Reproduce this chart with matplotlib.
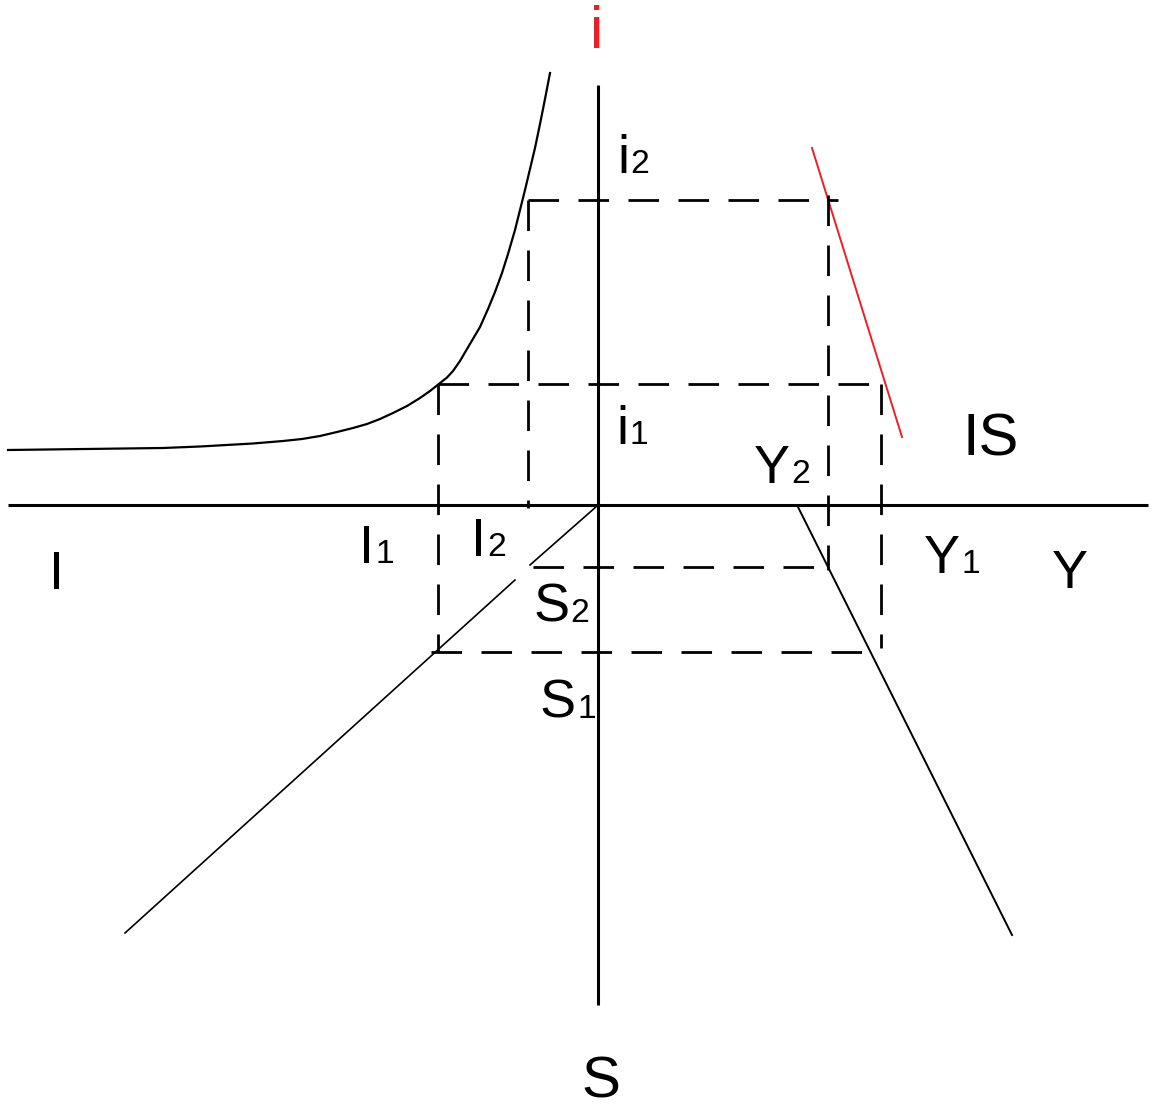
import matplotlib.pyplot as plt

plt.rcParams['lines.scale_dashes'] = False
plt.rcParams['font.family'] = ['Liberation Sans', 'DejaVu Sans']

# diagram coordinates (image pixels, y downwards)
axis_h_x = [8, 1148]
axis_h_y = [505, 505]
axis_v_x = [598, 598]
axis_v_y = [85, 1005]

# investment curve (top-left quadrant)
inv_x = [8, 163, 200, 253, 283, 302, 320, 337, 353, 367, 380, 393, 407, 420,
         430, 437, 447, 453, 460, 467, 480, 488, 495, 502, 508, 515, 520, 525,
         530, 535, 540, 545, 550]
inv_y = [450, 448, 446.5, 443.5, 441, 439, 436, 432, 428, 424, 419, 413, 406,
         398, 391, 385.5, 377.5, 371, 361, 349, 327, 309, 292, 273, 254, 230,
         210, 190, 169, 148, 124, 99, 73]

# savings lines (bottom-left quadrant), drawn in two pieces
sav1_x = [597, 530]
sav1_y = [506, 565]
sav2_x = [515, 125]
sav2_y = [580, 933]

# bottom-right line
sy_x = [798, 1012]
sy_y = [507, 935]

# IS curve (red)
is_x = [812, 902]
is_y = [148, 437]

# dashed guides: (x0, y0, x1, y1)
guides = [
    (528, 200, 838, 200),
    (528, 200, 528, 508),
    (828, 195, 828, 570),
    (438, 384, 881, 384),
    (438, 384, 438, 652),
    (881, 384, 881, 648),
    (533, 567, 833, 567),
    (431, 652, 868, 652),
]

# labels: (main text, sub text, x, baseline y, size, colour)
labels = [
    ('i', '', 590, 48, 43, '#e8202a'),
    ('i', '2', 617, 173, 39, 'black'),
    ('i', '1', 616, 444, 39, 'black'),
    ('Y', '2', 754, 483, 39, 'black'),
    ('IS', '', 962, 455, 43, 'black'),
    ('Y', '1', 924, 573, 39, 'black'),
    ('Y', '', 1052, 588, 39, 'black'),
    ('I', '', 49, 589, 39, 'black'),
    ('I', '1', 359, 563, 39, 'black'),
    ('I', '2', 471, 556, 39, 'black'),
    ('S', '2', 533, 622, 39, 'black'),
    ('S', '1', 540, 718, 39, 'black'),
    ('S', '', 581, 1097, 42, 'black'),
]

fig = plt.figure(figsize=(11.52, 11.11), dpi=100)
ax = fig.add_axes([0, 0, 1, 1])
ax.set_xlim(0, 1152)
ax.set_ylim(1111, 0)
ax.axis('off')

ax.plot(axis_h_x, axis_h_y, color='black', lw=2.2, solid_capstyle='butt')
ax.plot(axis_v_x, axis_v_y, color='black', lw=2.2, solid_capstyle='butt')

ax.plot(inv_x, inv_y, color='black', lw=1.6)
ax.plot(sav1_x, sav1_y, color='black', lw=1.2)
ax.plot(sav2_x, sav2_y, color='black', lw=1.2)
ax.plot(sy_x, sy_y, color='black', lw=1.4)
ax.plot(is_x, is_y, color='#e8202a', lw=1.4)

for x0, y0, x1, y1 in guides:
    ax.plot([x0, x1], [y0, y1], color='black', lw=2.0,
            dashes=(22, 14), dash_capstyle='butt')

fig.canvas.draw()
for main, sub, x, y, size, col in labels:
    t = ax.text(x, y, main, fontsize=size, color=col, ha='left', va='baseline')
    if sub:
        # put the smaller digit right after the letter, same baseline
        bb = t.get_window_extent(renderer=fig.canvas.get_renderer())
        ax.annotate(sub, xy=(bb.x1, y), xycoords=('figure pixels', 'data'),
                    fontsize=size * 0.62, color=col, ha='left', va='baseline',
                    xytext=(1, 0), textcoords='offset points')

fig.savefig('out.png', dpi=100)
